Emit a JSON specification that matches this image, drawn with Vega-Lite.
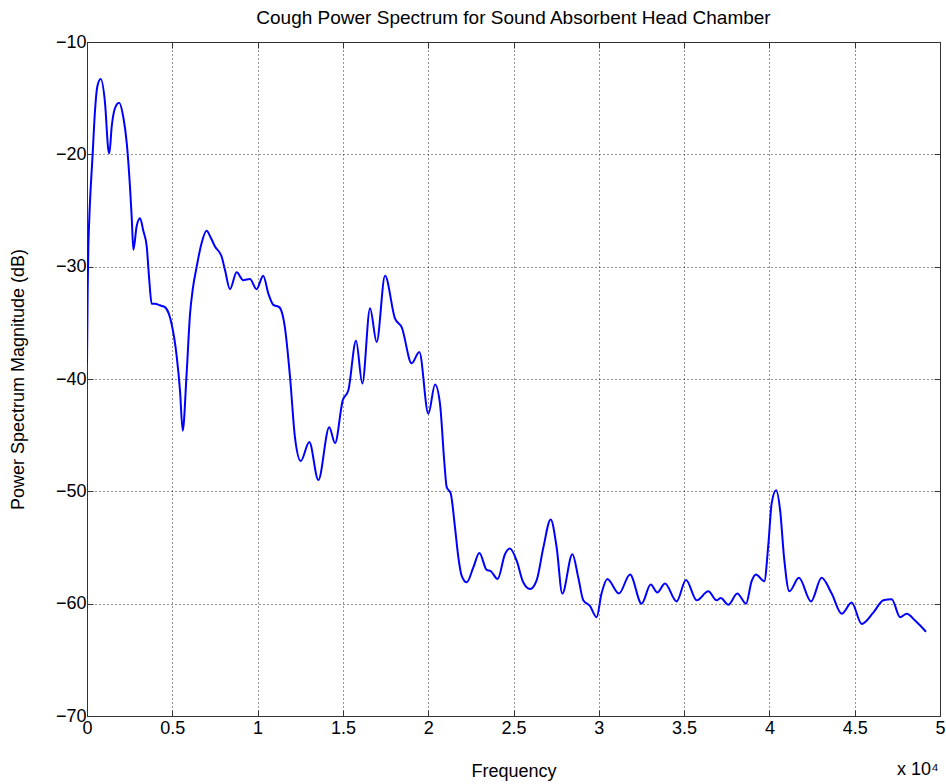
{
  "$schema": "https://vega.github.io/schema/vega-lite/v6.json",
  "width": 853,
  "height": 674,
  "autosize": {"type": "none"},
  "padding": {"left": 87, "top": 42, "right": 6, "bottom": 68},
  "background": "white",
  "title": {
    "text": "Cough Power Spectrum for Sound Absorbent Head Chamber",
    "font": "Liberation Sans",
    "fontSize": 19,
    "fontWeight": "normal",
    "color": "black",
    "offset": 5
  },
  "config": {
    "view": {"stroke": "#333333", "strokeWidth": 1},
    "axis": {
      "labelFont": "Liberation Sans",
      "labelFontSize": 18,
      "labelColor": "black",
      "titleFont": "Liberation Sans",
      "titleFontSize": 18,
      "titleFontWeight": "normal",
      "titleColor": "black",
      "domainColor": "#333333",
      "tickColor": "#333333",
      "tickSize": -6,
      "grid": true,
      "gridColor": "#111111",
      "gridDash": [1, 3],
      "gridOpacity": 0.9,
      "gridWidth": 1
    }
  },
  "data": {
    "values": [
      {"f": 0, "p": -38.6}, {"f": 40, "p": -32}, {"f": 80, "p": -28.2}, {"f": 130, "p": -25.9},
      {"f": 330, "p": -20.0}, {"f": 470, "p": -16.1}, {"f": 600, "p": -14.0}, {"f": 800, "p": -13.3},
      {"f": 1060, "p": -15.5}, {"f": 1250, "p": -19.6}, {"f": 1310, "p": -19.9}, {"f": 1450, "p": -17.5},
      {"f": 1640, "p": -15.9}, {"f": 1880, "p": -15.4}, {"f": 2130, "p": -16.7}, {"f": 2330, "p": -19.0},
      {"f": 2520, "p": -22.9}, {"f": 2620, "p": -25.6}, {"f": 2720, "p": -28.5}, {"f": 2910, "p": -26.4},
      {"f": 3110, "p": -25.7}, {"f": 3300, "p": -26.8}, {"f": 3500, "p": -28.2}, {"f": 3650, "p": -31.2},
      {"f": 3790, "p": -33.3}, {"f": 4000, "p": -33.3}, {"f": 4200, "p": -33.4}, {"f": 4400, "p": -33.5},
      {"f": 4570, "p": -33.6}, {"f": 4800, "p": -34.2}, {"f": 4960, "p": -35.1}, {"f": 5260, "p": -38.0},
      {"f": 5450, "p": -41.0}, {"f": 5610, "p": -44.6}, {"f": 5840, "p": -39.5}, {"f": 6040, "p": -34.2},
      {"f": 6200, "p": -32.0}, {"f": 6430, "p": -30.0}, {"f": 6700, "p": -28.0}, {"f": 7010, "p": -26.8},
      {"f": 7250, "p": -27.4}, {"f": 7500, "p": -28.2}, {"f": 7890, "p": -29.1}, {"f": 8090, "p": -30.3},
      {"f": 8380, "p": -32.0}, {"f": 8770, "p": -30.5}, {"f": 9160, "p": -31.2}, {"f": 9550, "p": -31.1},
      {"f": 9940, "p": -32.0}, {"f": 10330, "p": -30.8}, {"f": 10630, "p": -32.4}, {"f": 10920, "p": -33.4},
      {"f": 11270, "p": -33.6}, {"f": 11600, "p": -35.4}, {"f": 11900, "p": -39.8}, {"f": 12190, "p": -45.2},
      {"f": 12530, "p": -47.3}, {"f": 13030, "p": -45.6}, {"f": 13560, "p": -49.0}, {"f": 14200, "p": -44.3},
      {"f": 14540, "p": -45.7}, {"f": 14990, "p": -41.9}, {"f": 15320, "p": -41.0}, {"f": 15770, "p": -36.6},
      {"f": 16140, "p": -40.4}, {"f": 16590, "p": -33.7}, {"f": 16980, "p": -36.7}, {"f": 17470, "p": -30.8},
      {"f": 18050, "p": -34.6}, {"f": 18450, "p": -35.4}, {"f": 19030, "p": -38.6}, {"f": 19480, "p": -37.6},
      {"f": 20010, "p": -43.1}, {"f": 20400, "p": -40.5}, {"f": 20690, "p": -42.2}, {"f": 20950, "p": -47.5},
      {"f": 21080, "p": -49.6}, {"f": 21320, "p": -50.2}, {"f": 21570, "p": -53.2}, {"f": 21770, "p": -55.9},
      {"f": 21960, "p": -57.5}, {"f": 22260, "p": -58.1}, {"f": 22640, "p": -56.8}, {"f": 23000, "p": -55.5},
      {"f": 23430, "p": -57.0}, {"f": 23660, "p": -57.1}, {"f": 24070, "p": -57.8}, {"f": 24500, "p": -55.6},
      {"f": 24790, "p": -55.1}, {"f": 25190, "p": -56.2}, {"f": 25570, "p": -58.1}, {"f": 25970, "p": -58.7},
      {"f": 26360, "p": -57.9}, {"f": 26750, "p": -55.0}, {"f": 27180, "p": -52.5}, {"f": 27530, "p": -55.0},
      {"f": 27860, "p": -59.1}, {"f": 28450, "p": -55.6}, {"f": 28800, "p": -57.7}, {"f": 29090, "p": -59.7},
      {"f": 29480, "p": -60.2}, {"f": 29870, "p": -61.2}, {"f": 30160, "p": -59.1}, {"f": 30500, "p": -57.8},
      {"f": 31180, "p": -59.1}, {"f": 31830, "p": -57.4}, {"f": 32510, "p": -60.0}, {"f": 33040, "p": -58.3},
      {"f": 33430, "p": -59.0}, {"f": 33880, "p": -58.2}, {"f": 34560, "p": -59.8}, {"f": 35110, "p": -57.9},
      {"f": 35740, "p": -59.7}, {"f": 36420, "p": -58.9}, {"f": 36900, "p": -59.7}, {"f": 37150, "p": -59.5},
      {"f": 37590, "p": -60.1}, {"f": 38120, "p": -59.1}, {"f": 38630, "p": -60.0}, {"f": 38960, "p": -58.0},
      {"f": 39210, "p": -57.4}, {"f": 39700, "p": -58.0}, {"f": 39940, "p": -54.7}, {"f": 40130, "p": -51.1},
      {"f": 40390, "p": -49.9}, {"f": 40630, "p": -51.7}, {"f": 40860, "p": -55.9}, {"f": 41170, "p": -58.9},
      {"f": 41730, "p": -57.7}, {"f": 42440, "p": -59.8}, {"f": 43060, "p": -57.7}, {"f": 43650, "p": -59.1},
      {"f": 44240, "p": -60.9}, {"f": 44820, "p": -59.9}, {"f": 45410, "p": -61.8}, {"f": 46090, "p": -60.8},
      {"f": 46680, "p": -59.7}, {"f": 47170, "p": -59.6}, {"f": 47660, "p": -61.2}, {"f": 48050, "p": -60.9},
      {"f": 48540, "p": -61.5}, {"f": 49180, "p": -62.5}
    ]
  },
  "layer": [
    {
      "mark": {"type": "line", "color": "#0000FF", "strokeWidth": 2, "interpolate": "monotone", "clip": true},
      "encoding": {
        "x": {
          "field": "f", "type": "quantitative",
          "scale": {"domain": [0, 50000], "nice": false, "zero": false},
          "axis": {
            "title": "Frequency",
            "values": [0, 5000, 10000, 15000, 20000, 25000, 30000, 35000, 40000, 45000, 50000],
            "labelExpr": "datum.value / 10000",
            "labelPadding": 9,
            "titlePadding": 25,
            "labelFlush": false,
            "labelOverlap": false
          }
        },
        "y": {
          "field": "p", "type": "quantitative",
          "scale": {"domain": [-70, -10], "nice": false, "zero": false},
          "axis": {
            "title": "Power Spectrum Magnitude (dB)",
            "values": [-70, -60, -50, -40, -30, -20, -10],
            "labelPadding": 7,
            "titlePadding": 28,
            "labelFlush": false,
            "labelOverlap": false
          }
        }
      }
    },
    {
      "mark": {"type": "line", "opacity": 0},
      "encoding": {
        "x": {
          "field": "f", "type": "quantitative",
          "axis": {"orient": "top", "labels": false, "grid": false, "title": null, "values": [0, 5000, 10000, 15000, 20000, 25000, 30000, 35000, 40000, 45000, 50000]}
        },
        "y": {
          "field": "p", "type": "quantitative",
          "axis": {"orient": "right", "labels": false, "grid": false, "title": null, "values": [-70, -60, -50, -40, -30, -20, -10]}
        }
      }
    },
    {
      "data": {"values": [{"note": "x 10⁴"}]},
      "mark": {"type": "text", "font": "Liberation Sans", "fontSize": 18, "color": "black", "align": "center", "baseline": "alphabetic", "dy": 59, "clip": false},
      "encoding": {
        "text": {"field": "note"},
        "x": {"datum": 48700, "type": "quantitative", "axis": null},
        "y": {"datum": -70, "type": "quantitative", "axis": null}
      }
    }
  ],
  "resolve": {"axis": {"x": "independent", "y": "independent"}}
}
